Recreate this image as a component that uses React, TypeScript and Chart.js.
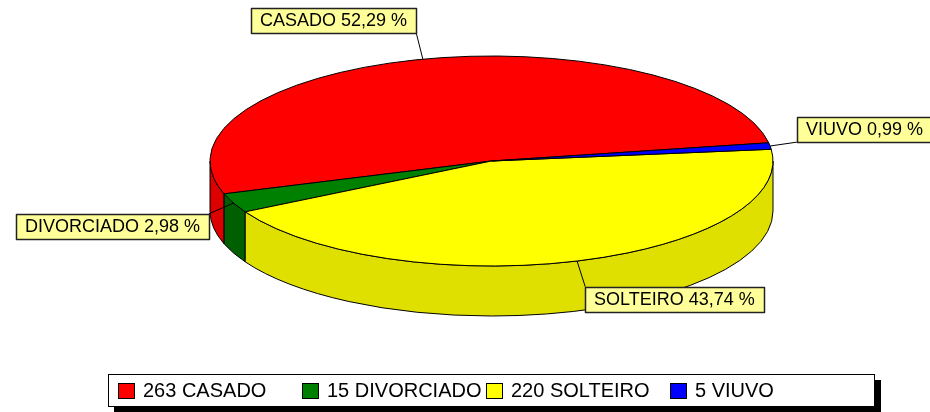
import React, { useEffect, useRef } from 'react';
import { Chart, registerables } from 'chart.js';

Chart.register(...registerables);

// ---- data ----
const LABELS: string[] = ['CASADO', 'DIVORCIADO', 'SOLTEIRO', 'VIUVO'];
const VALUES: number[] = [263, 15, 220, 5];
const TOP_COLORS: string[] = ['#FF0000', '#008000', '#FFFF00', '#0000FF'];
const SIDE_COLORS: string[] = ['#DD0000', '#005F00', '#E0E000', '#0000DD'];

// ---- styling constants ----
const DEPTH = 50;
const LABEL_LEN = 27;
const FONT = '"Liberation Sans", Arial, Helvetica, sans-serif';

const pct = (v: number) => {
  const total = VALUES.reduce((a, b) => a + b, 0);
  return (v / total * 100).toFixed(2).replace('.', ',');
};

const pie3d = {
  id: 'pie3d',
  beforeDatasetsDraw(chart: any) {
    const { ctx, chartArea: ca } = chart;
    const meta = chart.getDatasetMeta(0);
    const cx = (ca.left + ca.right) / 2;
    const rx = (ca.right - ca.left) / 2;
    const ry = (ca.bottom - ca.top - DEPTH) / 2;
    const cy = ca.top + ry;
    const P = (a: number, dy = 0): [number, number] => [cx + rx * Math.cos(a), cy - ry * Math.sin(a) + dy];

    ctx.save();
    ctx.lineWidth = 1;
    ctx.strokeStyle = '#000';
    ctx.lineJoin = 'round';

    const arcs = meta.data.map((el: any) => ({ a1: el.startAngle, a2: el.endAngle }));

    // side walls (front half)
    arcs.forEach((arc: any, i: number) => {
      for (let n = -1; n <= 2; n++) {
        const s = Math.max(arc.a1, Math.PI + 2 * Math.PI * n);
        const e = Math.min(arc.a2, 2 * Math.PI + 2 * Math.PI * n);
        if (e > s) {
          ctx.beginPath();
          const p1 = P(s);
          ctx.moveTo(p1[0], p1[1]);
          ctx.ellipse(cx, cy, rx, ry, 0, -s, -e, true);
          const p2 = P(e, DEPTH);
          ctx.lineTo(p2[0], p2[1]);
          ctx.ellipse(cx, cy + DEPTH, rx, ry, 0, -e, -s, false);
          ctx.closePath();
          ctx.fillStyle = SIDE_COLORS[i];
          ctx.fill();
          ctx.stroke();
        }
      }
    });

    // top faces
    arcs.forEach((arc: any, i: number) => {
      ctx.beginPath();
      ctx.moveTo(cx, cy);
      ctx.ellipse(cx, cy, rx, ry, 0, -arc.a1, -arc.a2, true);
      ctx.closePath();
      ctx.fillStyle = TOP_COLORS[i];
      ctx.fill();
      ctx.stroke();
    });

    // callout labels
    ctx.font = '18px ' + FONT;
    ctx.textBaseline = 'middle';
    ctx.textAlign = 'left';
    arcs.forEach((arc: any, i: number) => {
      const mid = (arc.a1 + arc.a2) / 2;
      const [ax, ay] = P(mid);
      const ex = ax + LABEL_LEN * Math.cos(mid);
      const ey = ay - LABEL_LEN * Math.sin(mid);
      ctx.beginPath();
      ctx.moveTo(ax, ay);
      ctx.lineTo(ex, ey);
      ctx.strokeStyle = '#000';
      ctx.stroke();
      const text = `${LABELS[i]} ${pct(VALUES[i])} %`;
      const w = Math.round(ctx.measureText(text).width + 18);
      const h = 25;
      const bx = Math.round(Math.cos(mid) >= 0 ? ex : ex - w);
      const by = Math.round(Math.sin(mid) >= 0 ? ey - h : ey);
      ctx.fillStyle = '#FFFF99';
      ctx.fillRect(bx, by, w, h);
      ctx.lineWidth = 1.5;
      ctx.strokeStyle = '#222';
      ctx.strokeRect(bx + 0.5, by + 0.5, w, h);
      ctx.lineWidth = 1;
      ctx.fillStyle = '#000';
      ctx.fillText(text, bx + 9, by + h / 2 + 1);
    });
    ctx.restore();
    return false;
  },
  afterDraw(chart: any) {
    const { ctx, chartArea: ca } = chart;
    const cx = (ca.left + ca.right) / 2;
    const legW = 767;
    const legH = 33;
    const col = 184;
    const bx = Math.round(cx - legW / 2);
    const by = Math.round(ca.bottom + 58);
    ctx.save();
    ctx.fillStyle = '#000';
    ctx.fillRect(bx + 6, by + 6, legW, legH);
    ctx.fillStyle = '#fff';
    ctx.fillRect(bx, by, legW, legH);
    ctx.lineWidth = 1;
    ctx.strokeStyle = '#000';
    ctx.strokeRect(bx + 0.5, by + 0.5, legW - 1, legH - 1);
    ctx.font = '20px ' + FONT;
    ctx.textBaseline = 'middle';
    ctx.textAlign = 'left';
    LABELS.forEach((lab, i) => {
      const x0 = bx + 10 + i * col;
      ctx.fillStyle = TOP_COLORS[i];
      ctx.fillRect(x0, by + 9, 17, 16);
      ctx.strokeStyle = '#000';
      ctx.strokeRect(x0 + 0.5, by + 9.5, 16, 15);
      ctx.fillStyle = '#000';
      ctx.fillText(`${VALUES[i]} ${lab}`, x0 + 25, by + legH / 2 + 1);
    });
    ctx.restore();
  },
};

export default function App() {
  const ref = useRef<HTMLCanvasElement>(null);
  useEffect(() => {
    const chart = new Chart(ref.current as HTMLCanvasElement, {
      type: 'pie',
      data: {
        labels: LABELS,
        datasets: [{ data: VALUES, backgroundColor: TOP_COLORS, borderColor: '#000', borderWidth: 1 }],
      },
      options: {
        responsive: false,
        animation: false,
        rotation: 100,
        layout: { padding: { left: 210, right: 157, top: 56, bottom: 96 } },
        plugins: { legend: { display: false }, tooltip: { enabled: true } },
      },
      plugins: [pie3d],
    } as any);
    return () => chart.destroy();
  }, []);
  return (
    <div style={{ position: 'absolute', left: 0, top: 0, width: 930, height: 412, background: '#fff' }}>
      <canvas ref={ref} width={930} height={412} style={{ display: 'block', width: 930, height: 412 }} />
    </div>
  );
}
